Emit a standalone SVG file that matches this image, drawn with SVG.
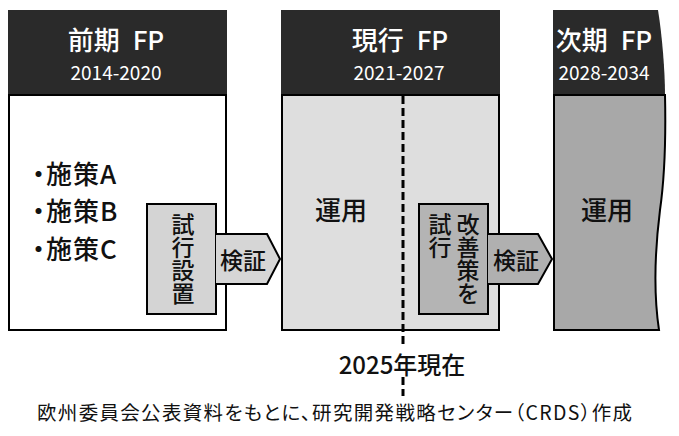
<svg xmlns="http://www.w3.org/2000/svg" width="679" height="436" viewBox="0 0 679 436">
<style>
text{font-family:"Noto Sans CJK JP","Noto Sans",sans-serif;dominant-baseline:central;}
.hdr{fill:#2a2a2a;}
.title{fill:#fff;font-size:26px;font-weight:500;text-anchor:middle;word-spacing:7px;}
.years{fill:#fff;font-size:19px;text-anchor:middle;}
.body{stroke:#000;stroke-width:2;}
.lbl{fill:#111;font-size:26px;font-weight:500;}
.bul{font-feature-settings:'palt';letter-spacing:1px;}
.v{fill:#111;font-size:23px;font-weight:500;text-anchor:middle;}
.vt{fill:#111;font-size:23px;font-weight:500;writing-mode:vertical-rl;text-anchor:start;}
.arr{stroke:#000;stroke-width:2;stroke-linejoin:miter;}
.dash{stroke:#000;stroke-width:3;stroke-dasharray:8 4;fill:none;}
</style>
<g id="fp-prev">
<rect class="hdr" x="8" y="10" width="219" height="85"/>
<text class="title" x="116" y="38.5">前期 FP</text>
<text class="years" x="116" y="71.5">2014-2020</text>
<rect class="body" x="9" y="95" width="217" height="235" fill="#fff"/>
<text class="lbl bul" x="32" y="172">・施策A</text>
<text class="lbl bul" x="32" y="209">・施策B</text>
<text class="lbl bul" x="32" y="247">・施策C</text>
</g>
<g id="trial1">
<rect class="body" x="147" y="204" width="69" height="110" fill="#d4d4d4"/>
<text class="vt" x="183" y="213">試行設置</text>
</g>
<g id="fp-current">
<rect class="hdr" x="281" y="10" width="219" height="85"/>
<text class="title" x="400" y="38.5">現行 FP</text>
<text class="years" x="399" y="71.5">2021-2027</text>
<rect class="body" x="282" y="95" width="217" height="235" fill="#dedede"/>
<text class="lbl" x="341" y="208" text-anchor="middle">運用</text>
</g>
<g id="trial2">
<rect class="body" x="419" y="204" width="69" height="110" fill="#b4b4b4"/>
<text class="vt" x="468" y="213">改善策を</text>
<text class="vt" x="440" y="213">試行</text>
</g>
<g id="fp-next">
<path class="hdr" d="M553,10 L658,10 C662,35 665,70 665,95 L553,95 Z"/>
<text class="title" x="604" y="38.5">次期 FP</text>
<text class="years" x="604" y="71.5">2028-2034</text>
<path class="body" fill="#a8a8a8" d="M554,95 L665,95 C666,140 665,175 660,210 C655,250 653,290 659,330 L554,330 Z"/>
<text class="lbl" x="607" y="208" text-anchor="middle">運用</text>
</g>
<g id="connectors">
<path class="arr" fill="#d6d6d6" d="M216,234 L267,234 L280,259 L267,284 L216,284"/>
<text class="v" x="243" y="259">検証</text>
<path class="arr" fill="#b0b0b0" d="M488,234 L538,234 L552,259 L538,284 L488,284"/>
<text class="v" x="516" y="259">検証</text>
<line class="dash" x1="403" y1="96" x2="403" y2="346"/>
<line class="dash" x1="403" y1="377" x2="403" y2="396"/>
</g>
<g id="now-label">
<text x="402" y="363" font-size="24" font-weight="500" fill="#111" text-anchor="middle">2025年現在</text>
</g>
<g id="caption">
<text x="37" y="411" font-size="19.5" fill="#111" style="font-feature-settings:'palt'" textLength="595" lengthAdjust="spacing">欧州委員会公表資料をもとに、研究開発戦略センター（CRDS）作成</text>
</g>
</svg>
